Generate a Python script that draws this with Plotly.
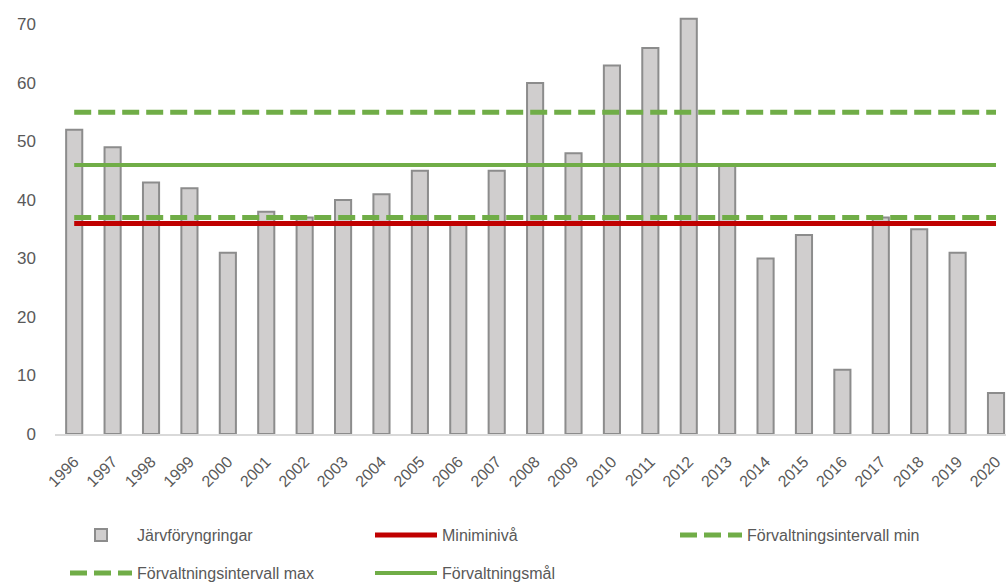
import plotly.graph_objects as go

years = list(range(1996, 2021))
jarv = [52, 49, 43, 42, 31, 38, 37, 40, 41, 45, 36, 45, 60, 48, 63, 66, 71, 46, 30, 34, 11, 37, 35, 31, 7]
miniminiva = 36
intervall_min = 37
intervall_max = 55
malniva = 46
ytick_vals = [0, 10, 20, 30, 40, 50, 60, 70]

FONT = "Liberation Sans"
GREY = "#595959"
GREEN = "#70AD47"
RED = "#C00000"

fig = go.Figure()
fig.add_trace(go.Bar(
    x=years, y=jarv, name="Järvföryngringar", width=0.42,
    marker=dict(color="#D0CECE", line=dict(color="#8C8C8C", width=2)),
    legend="legend",
))
fig.add_trace(go.Scatter(
    x=years, y=[miniminiva] * len(years), name="Miniminivå", mode="lines",
    line=dict(color=RED, width=5), legend="legend",
))
fig.add_trace(go.Scatter(
    x=years, y=[intervall_min] * len(years), name="Förvaltningsintervall min", mode="lines",
    line=dict(color=GREEN, width=5, dash="17px,7px"), legend="legend",
))
fig.add_trace(go.Scatter(
    x=years, y=[intervall_max] * len(years), name="Förvaltningsintervall max", mode="lines",
    line=dict(color=GREEN, width=5, dash="17px,7px"), legend="legend2",
))
fig.add_trace(go.Scatter(
    x=years, y=[malniva] * len(years), name="Förvaltningsmål", mode="lines",
    line=dict(color=GREEN, width=4), legend="legend2",
))

legend_common = dict(
    orientation="h", xref="container", yref="container", x=65 / 1006,
    xanchor="left", yanchor="middle", entrywidth=228, entrywidthmode="pixels",
    itemwidth=62,
    font=dict(family=FONT, size=16, color=GREY), bgcolor="rgba(0,0,0,0)",
    traceorder="normal",
)

fig.update_layout(
    width=1006, height=584,
    margin=dict(l=54.5, r=0, t=2, b=150, autoexpand=False),
    plot_bgcolor="white", paper_bgcolor="white",
    showlegend=True,
    legend=dict(legend_common, y=49 / 584),
    legend2=dict(legend_common, y=11 / 584),
    xaxis=dict(
        range=[1995.5, 2020.26], tickmode="array", tickvals=years,
        ticktext=[str(y) for y in years], tickangle=-45, automargin=False,
        showgrid=False, showline=True, linecolor="#D9D9D9", linewidth=2,
        ticks="", ticklabelstandoff=10,
        tickfont=dict(family=FONT, size=16, color=GREY),
        zeroline=False,
    ),
    yaxis=dict(
        range=[0, 73.85], tickmode="array", tickvals=ytick_vals, automargin=False,
        showgrid=False, showline=False, zeroline=False, ticks="",
        ticklabelstandoff=18,
        tickfont=dict(family=FONT, size=17, color=GREY),
    ),
)

fig.write_html(
    "out.html",
    config={"displayModeBar": False},
    post_script="document.body.style.margin='0';document.body.style.overflow='hidden';",
)
